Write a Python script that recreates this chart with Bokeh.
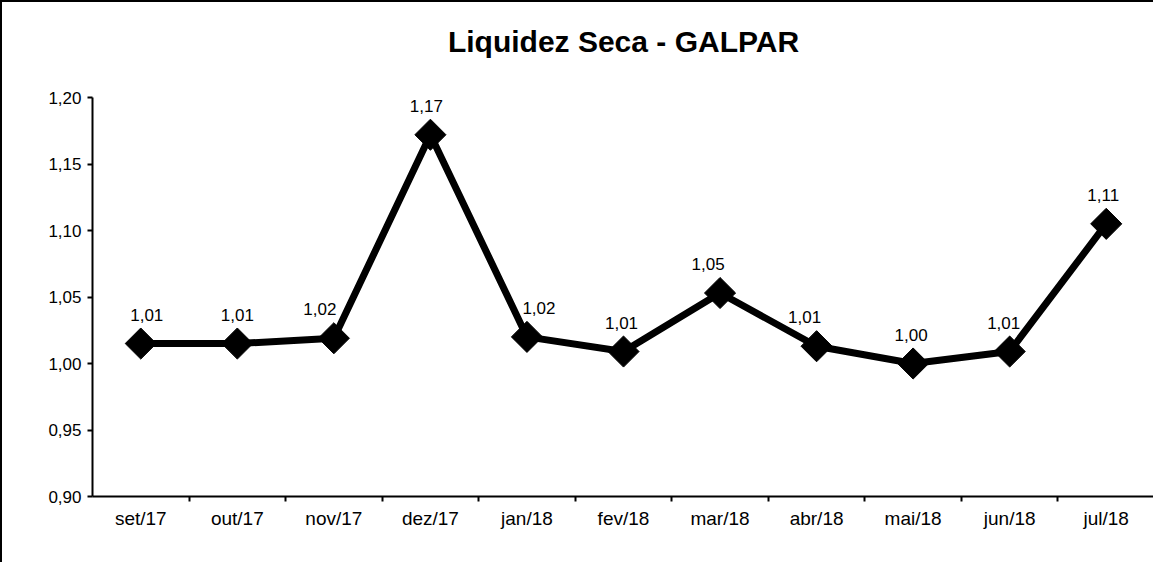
import math
from bokeh.plotting import figure
from bokeh.models import ColumnDataSource, FixedTicker, Range1d, LinearAxis
from bokeh.core.properties import value
from bokeh.embed import file_html
from bokeh.resources import INLINE

# ---- data ----
categories = ["set/17", "out/17", "nov/17", "dez/17", "jan/18", "fev/18",
              "mar/18", "abr/18", "mai/18", "jun/18", "jul/18"]
values = [1.015, 1.015, 1.019, 1.172, 1.020, 1.009, 1.053, 1.013, 1.000, 1.009, 1.105]
value_labels = ["1,01", "1,01", "1,02", "1,17", "1,02", "1,01", "1,05", "1,01", "1,00", "1,01", "1,11"]
y_ticks = [0.90, 0.95, 1.00, 1.05, 1.10, 1.15, 1.20]
y_tick_labels = ["0,90", "0,95", "1,00", "1,05", "1,10", "1,15", "1,20"]
title_text = "Liquidez Seca - GALPAR"

# label nudges (style, in screen pixels)
label_dx = [6, 0, -14, -4, 12, -2, -12, -12, -2, -6, -3]

FONT = "Liberation Sans"
n = len(categories)
xpos = [i + 0.5 for i in range(n)]

src = ColumnDataSource(dict(x=xpos, y=values, lab=value_labels, dx=label_dx))

p = figure(width=1153, height=562,
           x_range=Range1d(0, n), y_range=Range1d(y_ticks[0], y_ticks[-1]),
           output_backend="svg", toolbar_location=None,
           min_border_left=90, min_border_right=1, min_border_top=95, min_border_bottom=68,
           background_fill_color="white", border_fill_color="white")
p.styles = {"border-left": "2px solid black", "border-top": "2px solid black"}

# title drawn as the label of an otherwise empty top axis (exact vertical placement)
tax = LinearAxis(ticker=FixedTicker(ticks=[]), axis_line_color=None,
                 major_tick_line_color=None, minor_tick_line_color=None,
                 major_tick_out=0, major_tick_in=0, minor_tick_out=0, minor_tick_in=0,
                 major_label_text_font_size="0px", major_label_standoff=0,
                 axis_label=title_text, axis_label_standoff=40,
                 axis_label_text_font=FONT, axis_label_text_font_size="30px",
                 axis_label_text_font_style="bold", axis_label_text_color="black")
p.add_layout(tax, "above")

p.outline_line_color = None
p.grid.visible = False

# x axis
xa = p.below[0]
xa.ticker = FixedTicker(ticks=xpos, minor_ticks=list(range(1, n)))
xa.major_label_overrides = {x: c for x, c in zip(xpos, categories)}
xa.major_tick_out = 0
xa.major_tick_in = 0
xa.minor_tick_out = 5
xa.minor_tick_in = 0
xa.minor_tick_line_color = "black"
xa.minor_tick_line_width = 2
xa.axis_line_color = "black"
xa.axis_line_width = 2
xa.major_label_text_font = FONT
xa.major_label_text_font_size = "19px"
xa.major_label_text_color = "black"
xa.major_label_standoff = 6

# y axis
ya = p.left[0]
ya.ticker = FixedTicker(ticks=y_ticks)
ya.major_label_overrides = {t: l for t, l in zip(y_ticks, y_tick_labels)}
ya.major_tick_out = 5
ya.major_tick_in = 0
ya.major_tick_line_width = 2
ya.minor_tick_line_color = None
ya.axis_line_color = "black"
ya.axis_line_width = 2
ya.major_label_text_font = FONT
ya.major_label_text_font_size = "17px"
ya.major_label_text_color = "black"
ya.major_label_standoff = 6

p.line("x", "y", source=src, line_color="black", line_width=7)
p.scatter("x", "y", source=src, marker="square", angle=math.pi / 4, size=22,
          fill_color="black", line_color="black")
p.text("x", "y", text="lab", source=src, text_align="center", text_baseline="bottom",
       x_offset="dx", y_offset=-23, text_font=value(FONT), text_font_size="17px",
       text_color="black")

open("out.html", "w").write(file_html(p, INLINE))
